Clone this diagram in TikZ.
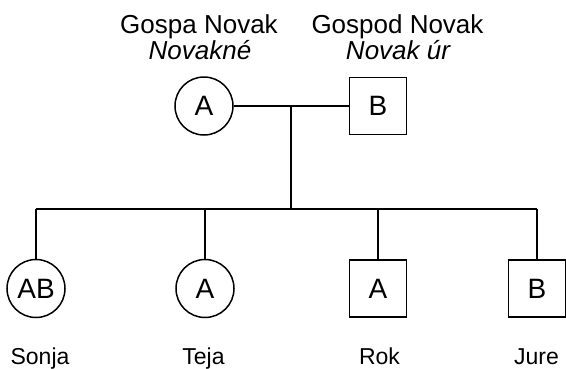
\documentclass[tikz,border=0pt]{standalone}
\usepackage{fontspec}
\setmainfont{Liberation Sans}
\begin{document}
\begin{tikzpicture}[x=1pt,y=-1pt,
  line width=1.5pt,
  female/.style={draw,circle,minimum size=58pt,inner sep=0pt,font=\fontsize{28}{30}\selectfont},
  male/.style={draw,rectangle,minimum size=57pt,inner sep=0pt,font=\fontsize{28}{30}\selectfont},
  toplabel/.style={anchor=base,inner sep=0pt,font=\fontsize{26}{28}\selectfont},
  toplabelit/.style={anchor=base,inner sep=0pt,font=\fontsize{26}{28}\selectfont\itshape},
  namelabel/.style={anchor=base,inner sep=0pt,font=\fontsize{23}{25}\selectfont}]
\useasboundingbox (0,0) rectangle (566,368);
% parents
\node[female] (M) at (204,106) {A};
\node[male] (F) at (378,106) {B};
\node[toplabel] (Mn) at (199,33) {Gospa Novak};
\node[toplabelit] (Mh) at (200,59) {Novakné};
\node[toplabel] (Fn) at (397.5,33) {Gospod Novak};
\node[toplabelit] (Fh) at (398,59) {Novak úr};
% children
\node[female] (S) at (36,288.5) {AB};
\node[female] (T) at (205,288.5) {A};
\node[male] (R) at (378,288.5) {A};
\node[male] (J) at (537,288.5) {B};
\node[namelabel] (Sn) at (40,364) {Sonja};
\node[namelabel] (Tn) at (203.5,364) {Teja};
\node[namelabel] (Rn) at (379.5,364) {Rok};
\node[namelabel] (Jn) at (536.5,364) {Jure};
% connectors
\coordinate (mid) at (291,106);
\coordinate (sib) at (291,209);
\coordinate (sibS) at (36,209);
\coordinate (sibT) at (205,209);
\coordinate (sibR) at (378,209);
\coordinate (sibJ) at (537,209);
\draw (M) -- (F);
\draw (mid) -- (sib);
\draw (sibS) -- (sibJ);
\draw (sibS) -- (S);
\draw (sibT) -- (T);
\draw (sibR) -- (R);
\draw (sibJ) -- (J);
\end{tikzpicture}
\end{document}
